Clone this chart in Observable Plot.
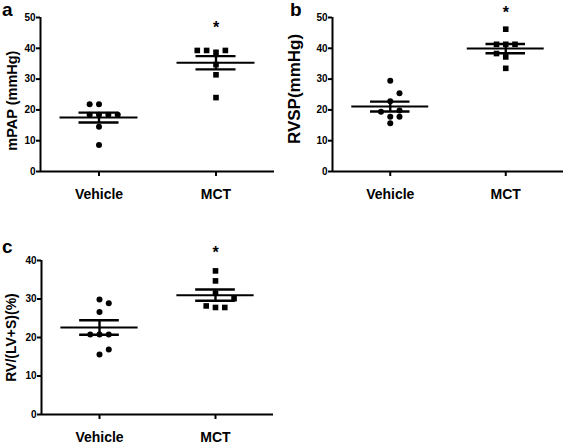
<!DOCTYPE html>
<html>
<head>
<meta charset="utf-8">
<script src="https://cdn.jsdelivr.net/npm/d3@7"></script>
<script src="https://cdn.jsdelivr.net/npm/@observablehq/plot@0.6"></script>
<style>
  html, body { margin: 0; padding: 0; background: #fff; }
  #wrap { position: relative; width: 567px; height: 445px; background: #fff; overflow: hidden;
          font-family: "Liberation Sans", Arial, sans-serif; }
  .panel { position: absolute; }
  .letter { position: absolute; font-weight: bold; font-size: 19px; line-height: 20px; color: #000; }
</style>
</head>
<body>
<div id="wrap"></div>
<script>
// ---------- data ----------
const groups = ["Vehicle", "MCT"];

// a: mPAP (mmHg)
const mpapVehicle = [21.8, 21.8, 18.4, 18.4, 18.4, 18.4, 14.5, 8.6];
const mpapVehicleSpread = [-1, 0, -1, 0, 1, 2, 0, 0];
const mpapMCT = [39.3, 39.3, 38.7, 39.3, 34.7, 31.4, 24.0];
const mpapMCTSpread = [-2, -1, 0, 1, 0, 0, 0];
const mpapMean = [17.5, 35.3];
const mpapSem = [1.6, 2.15];
const mpapStar = 47.8;

// b: RVSP (mmHg)
const rvspVehicle = [29.5, 25.4, 22.8, 19.4, 19.8, 17.8, 17.8, 15.7];
const rvspVehicleSpread = [0, 1, 0, -1, 1, 0, 1, 0];
const rvspMCT = [46.2, 41.3, 41.3, 41.3, 38.3, 37.2, 33.5];
const rvspMCTSpread = [0, -1, 0, 1, -1, 0, 0];
const rvspMean = [21.1, 39.9];
const rvspSem = [1.6, 1.5];
const rvspStar = 52.8;

// c: RV/(LV+S) (%)
const rvVehicle = [29.9, 28.9, 26.6, 20.8, 20.8, 20.8, 16.9, 15.6];
const rvVehicleSpread = [0, 1, 0, -1, 0, 1, 1, 0];
const rvMCT = [37.3, 34.7, 31.5, 30.1, 28.2, 27.8, 27.8];
const rvMCTSpread = [0, 0, 0, 2, -1, 0, 1];
const rvMean = [22.6, 31.0];
const rvSem = [1.9, 1.45];
const rvStar = 43.0;

// ---------- drawing ----------
const SLOT = 0.08;       // horizontal spacing of overlapping points (x units)
const MEAN_HALF = 0.333;
const SEM_HALF = 0.171;
const FONT = '"Liberation Sans", Arial, sans-serif';

function panel(cfg) {
  const pts = [];
  cfg.values.forEach((arr, g) =>
    arr.forEach((v, i) => pts.push({g, x: g + cfg.spread[g][i] * SLOT, v})));
  const stats = groups.map((name, i) => ({i, mean: cfg.mean[i], sem: cfg.sem[i]}));
  return Plot.plot({
    width: cfg.width, height: cfg.height,
    marginLeft: cfg.ml, marginRight: cfg.mr, marginTop: cfg.mt, marginBottom: cfg.mb,
    style: {fontFamily: FONT, background: "#fff", color: "#000", overflow: "visible"},
    x: {type: "linear", domain: [-0.5, 1.5]},
    y: {domain: [0, cfg.yMax]},
    marks: [
      Plot.axisY({ticks: d3.range(0, cfg.yMax + 1, 10), tickSize: 4, tickPadding: 1,
                  strokeWidth: 2, fontSize: 10, fontWeight: "bold", label: null}),
      Plot.axisX({ticks: [0, 1], tickFormat: i => groups[i], tickSize: 5, tickPadding: 13,
                  strokeWidth: 2, fontSize: 14, fontWeight: "bold", label: null}),
      Plot.ruleX([-0.5], {y1: 0, y2: cfg.yMax, strokeWidth: 2}),
      Plot.ruleY([0], {strokeWidth: 2}),
      Plot.dot(pts, {x: "x", y: "v", fill: "#000", stroke: "none",
                     symbol: d => d.g === 0 ? "circle" : "square",
                     r: d => d.g === 0 ? 3.4 : 3.8}),
      Plot.ruleY(stats, {x1: d => d.i - MEAN_HALF, x2: d => d.i + MEAN_HALF, y: "mean", strokeWidth: 2}),
      Plot.ruleY(stats, {x1: d => d.i - SEM_HALF, x2: d => d.i + SEM_HALF, y: d => d.mean + d.sem, strokeWidth: 2.4}),
      Plot.ruleY(stats, {x1: d => d.i - SEM_HALF, x2: d => d.i + SEM_HALF, y: d => d.mean - d.sem, strokeWidth: 2.4}),
      Plot.ruleX(stats, {x: "i", y1: d => d.mean - d.sem, y2: d => d.mean + d.sem, strokeWidth: 2.4}),
      Plot.text([cfg.star], {x: 1, y: d => d, text: () => "*", fontSize: 16, fontWeight: "bold", dy: 4}),
      Plot.text([cfg.label], {x: -0.5, y: () => cfg.labelY, text: d => d, rotate: -90,
                              dx: cfg.labelDx, fontSize: cfg.labelSize, fontWeight: "bold", fill: "#000"})
    ]
  });
}

const wrap = document.getElementById("wrap");
function place(svg, left, top) {
  const d = document.createElement("div");
  d.className = "panel";
  d.style.left = left + "px"; d.style.top = top + "px";
  d.appendChild(svg);
  wrap.appendChild(d);
}
function letter(t, left, top) {
  const d = document.createElement("div");
  d.className = "letter";
  d.textContent = t;
  d.style.left = left + "px"; d.style.top = top + "px";
  wrap.appendChild(d);
}

place(panel({values: [mpapVehicle, mpapMCT], spread: [mpapVehicleSpread, mpapMCTSpread],
             mean: mpapMean, sem: mpapSem, star: mpapStar, yMax: 50,
             label: "mPAP (mmHg)", labelY: 23, labelDx: -28, labelSize: 14.5,
             width: 280, height: 210, ml: 40, mr: 6, mt: 17, mb: 39}), 0, 0);
place(panel({values: [rvspVehicle, rvspMCT], spread: [rvspVehicleSpread, rvspMCTSpread],
             mean: rvspMean, sem: rvspSem, star: rvspStar, yMax: 50,
             label: "RVSP(mmHg)", labelY: 26.8, labelDx: -38, labelSize: 17,
             width: 277, height: 210, ml: 42, mr: 4, mt: 17, mb: 39}), 290, 0);
place(panel({values: [rvVehicle, rvMCT], spread: [rvVehicleSpread, rvMCTSpread],
             mean: rvMean, sem: rvSem, star: rvStar, yMax: 40,
             label: "RV/(LV+S)(%)", labelY: 20, labelDx: -30, labelSize: 14,
             width: 280, height: 230, ml: 41, mr: 7, mt: 45, mb: 31}), 0, 215);

letter("a", 2, 0);
letter("b", 290, 0);
letter("c", 2, 237);
</script>
</body>
</html>
